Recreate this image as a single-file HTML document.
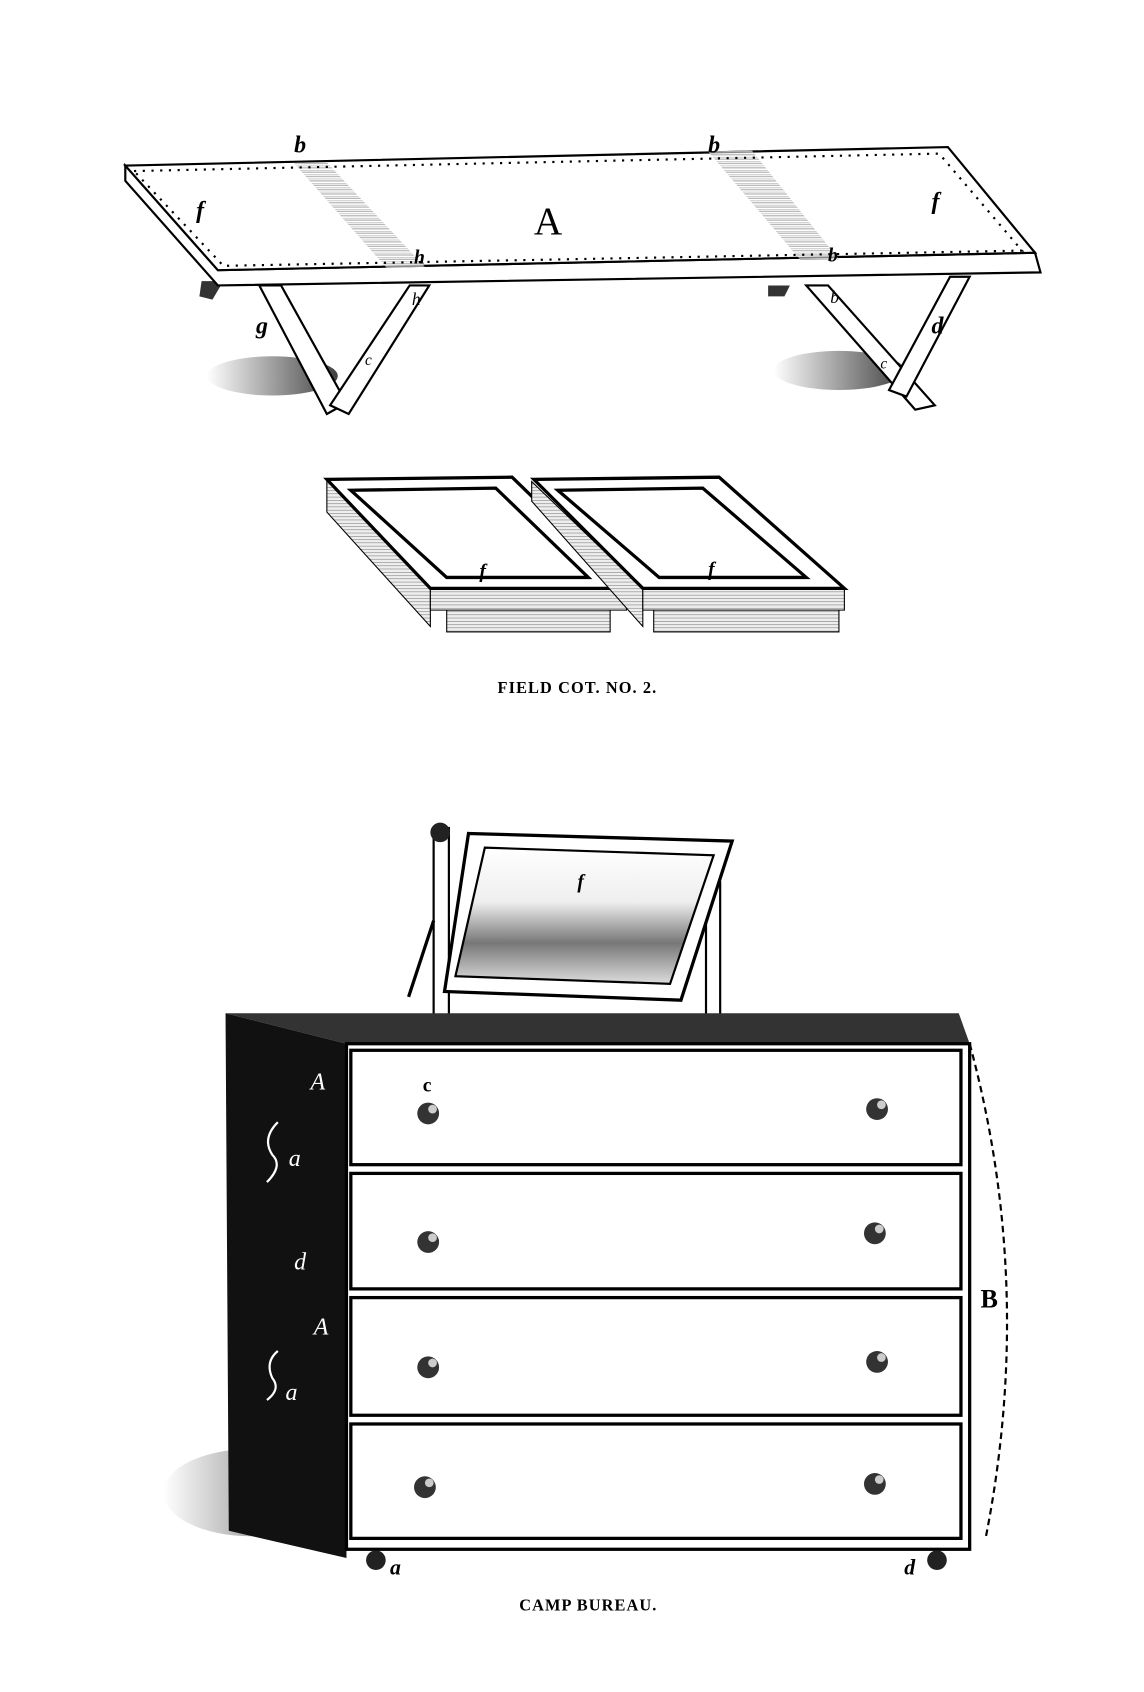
<!DOCTYPE html>
<html><head><meta charset="utf-8"><style>
html,body{margin:0;padding:0;background:#fff;}
svg{display:block;}
text{font-family:"Liberation Serif",serif;}
</style></head><body>
<svg width="1144" height="1692" viewBox="0 0 1050 1553" xmlns="http://www.w3.org/2000/svg">
<defs>
<pattern id="hat" width="4" height="4" patternUnits="userSpaceOnUse"><rect width="4" height="4" fill="#fff"/><path d="M0 0h4M0 2h4" stroke="#888" stroke-width="1"/></pattern>
<pattern id="hat2" width="3" height="3" patternUnits="userSpaceOnUse"><rect width="3" height="3" fill="#eee"/><path d="M0 0h3" stroke="#777" stroke-width="1"/></pattern>
<linearGradient id="sh" x1="0" y1="0" x2="1" y2="0"><stop offset="0" stop-color="#fff"/><stop offset="1" stop-color="#111"/></linearGradient>
<linearGradient id="mir" x1="0" y1="0" x2="0" y2="1"><stop offset="0" stop-color="#fff"/><stop offset="0.4" stop-color="#eee"/><stop offset="0.7" stop-color="#777"/><stop offset="1" stop-color="#ddd"/></linearGradient>
</defs>
<rect width="1050" height="1553" fill="#fff"/>

<!-- FIELD COT -->
<ellipse cx="250" cy="345" rx="60" ry="18" fill="url(#sh)" opacity="0.8"/>
<ellipse cx="770" cy="340" rx="60" ry="18" fill="url(#sh)" opacity="0.8"/>
<polygon points="238,262 258,262 318,370 300,380" fill="#fff" stroke="#000" stroke-width="2"/>
<polygon points="376,262 394,262 320,380 303,372" fill="#fff" stroke="#000" stroke-width="2"/>
<polygon points="185,258 205,258 195,275 183,272" fill="#333"/>
<polygon points="740,262 760,262 858,372 840,376" fill="#fff" stroke="#000" stroke-width="2"/>
<polygon points="872,254 890,254 832,364 816,358" fill="#fff" stroke="#000" stroke-width="2"/>
<polygon points="705,262 725,262 720,272 705,272" fill="#333"/>
<polygon points="115,152 115,166 200,262 955,250 950,232 200,248" fill="#fff" stroke="#000" stroke-width="2"/>
<polygon points="115,152 870,135 950,232 200,248" fill="#fff" stroke="#000" stroke-width="2"/>
<polygon points="270,150 300,149 390,245 355,246" fill="url(#hat)" opacity="0.7"/>
<polygon points="650,139 690,138 770,238 735,239" fill="url(#hat)" opacity="0.7"/>
<polyline points="123,157 862,141 938,230 205,244 123,157" fill="none" stroke="#000" stroke-width="2" stroke-dasharray="2 6"/>
<text x="270" y="140" font-size="22" font-style="italic" font-weight="bold">b</text>
<text x="650" y="140" font-size="22" font-style="italic" font-weight="bold">b</text>
<text x="180" y="200" font-size="22" font-style="italic" font-weight="bold">f</text>
<text x="855" y="192" font-size="22" font-style="italic" font-weight="bold">f</text>
<text x="490" y="215" font-size="36">A</text>
<text x="380" y="242" font-size="18" font-style="italic" font-weight="bold">h</text>
<text x="760" y="240" font-size="18" font-style="italic" font-weight="bold">b</text>
<text x="378" y="280" font-size="16" font-style="italic">h</text>
<text x="762" y="278" font-size="16" font-style="italic">b</text>
<text x="235" y="306" font-size="22" font-style="italic" font-weight="bold">g</text>
<text x="855" y="306" font-size="22" font-style="italic" font-weight="bold">d</text>
<text x="335" y="335" font-size="14" font-style="italic">c</text>
<text x="808" y="338" font-size="14" font-style="italic">c</text>

<!-- FOLDED COT -->
<rect x="410" y="558" width="150" height="22" fill="url(#hat2)" stroke="#000"/>
<rect x="600" y="558" width="170" height="22" fill="url(#hat2)" stroke="#000"/>
<polygon points="300,440 300,470 395,575 395,540" fill="url(#hat2)" stroke="#000"/>
<polygon points="395,540 575,540 575,560 395,560" fill="url(#hat2)" stroke="#000"/>
<polygon points="300,440 470,438 575,540 395,540" fill="#fff" stroke="#000" stroke-width="3"/>
<polygon points="322,450 455,448 540,530 410,530" fill="#fff" stroke="#000" stroke-width="3"/>
<polygon points="488,442 488,460 590,575 590,540" fill="url(#hat2)" stroke="#000"/>
<polygon points="590,540 775,540 775,560 590,560" fill="url(#hat2)" stroke="#000"/>
<polygon points="490,440 660,438 775,540 590,540" fill="#fff" stroke="#000" stroke-width="3"/>
<polygon points="512,450 645,448 740,530 605,530" fill="#fff" stroke="#000" stroke-width="3"/>
<text x="440" y="530" font-size="18" font-style="italic" font-weight="bold">f</text>
<text x="650" y="528" font-size="18" font-style="italic" font-weight="bold">f</text>
<text x="530" y="636" font-size="15" font-weight="bold" text-anchor="middle" letter-spacing="1">FIELD COT.   NO. 2.</text>

<!-- CAMP BUREAU -->
<ellipse cx="230" cy="1370" rx="80" ry="40" fill="url(#sh)" opacity="0.7"/>
<rect x="398" y="760" width="14" height="185" fill="#fff" stroke="#000" stroke-width="2"/>
<circle cx="404" cy="764" r="9" fill="#222"/>
<rect x="648" y="810" width="13" height="135" fill="#fff" stroke="#000" stroke-width="2"/>
<polygon points="430,765 672,772 625,918 408,910" fill="#fff" stroke="#000" stroke-width="3"/>
<polygon points="445,778 655,785 615,903 418,896" fill="url(#mir)" stroke="#000" stroke-width="2"/>
<line x1="398" y1="845" x2="375" y2="915" stroke="#000" stroke-width="3"/>
<text x="530" y="815" font-size="18" font-style="italic" font-weight="bold">f</text>
<polygon points="207,930 880,930 890,958 318,958" fill="#333"/>
<polygon points="207,930 318,958 318,1430 210,1405" fill="#111"/>
<rect x="318" y="958" width="572" height="464" fill="#fff" stroke="#000" stroke-width="3"/>
<g fill="#fff" stroke="#000" stroke-width="3">
<rect x="322" y="964" width="560" height="105"/>
<rect x="322" y="1077" width="560" height="106"/>
<rect x="322" y="1191" width="560" height="108"/>
<rect x="322" y="1307" width="560" height="105"/>
</g>
<g fill="#333">
<circle cx="393" cy="1022" r="10"/><circle cx="805" cy="1018" r="10"/>
<circle cx="393" cy="1140" r="10"/><circle cx="803" cy="1132" r="10"/>
<circle cx="393" cy="1255" r="10"/><circle cx="805" cy="1250" r="10"/>
<circle cx="390" cy="1365" r="10"/><circle cx="803" cy="1362" r="10"/>
</g>
<g fill="#ccc"><circle cx="397" cy="1018" r="4"/><circle cx="809" cy="1014" r="4"/><circle cx="397" cy="1136" r="4"/><circle cx="807" cy="1128" r="4"/><circle cx="397" cy="1251" r="4"/><circle cx="809" cy="1246" r="4"/><circle cx="394" cy="1361" r="4"/><circle cx="807" cy="1358" r="4"/></g>
<circle cx="345" cy="1432" r="9" fill="#222"/><circle cx="860" cy="1432" r="9" fill="#222"/>
<path d="M890,958 Q950,1180 905,1410" fill="none" stroke="#000" stroke-width="2" stroke-dasharray="6 4"/>
<text x="900" y="1200" font-size="24" font-weight="bold">B</text>
<text x="388" y="1002" font-size="18" font-weight="bold">c</text>
<g fill="#fff" font-style="italic" font-size="22">
<text x="285" y="1000">A</text><text x="265" y="1070">a</text><text x="270" y="1165">d</text><text x="288" y="1225">A</text><text x="262" y="1285">a</text>
</g>
<path d="M255,1030 q-15,15 -5,30 q10,10 -5,25" fill="none" stroke="#fff" stroke-width="2"/>
<path d="M255,1240 q-12,10 -5,25 q8,10 -5,20" fill="none" stroke="#fff" stroke-width="2"/>
<text x="358" y="1445" font-size="20" font-style="italic" font-weight="bold">a</text>
<text x="830" y="1445" font-size="20" font-style="italic" font-weight="bold">d</text>
<text x="540" y="1478" font-size="15" font-weight="bold" text-anchor="middle" letter-spacing="1">CAMP BUREAU.</text>
</svg>
</body></html>
